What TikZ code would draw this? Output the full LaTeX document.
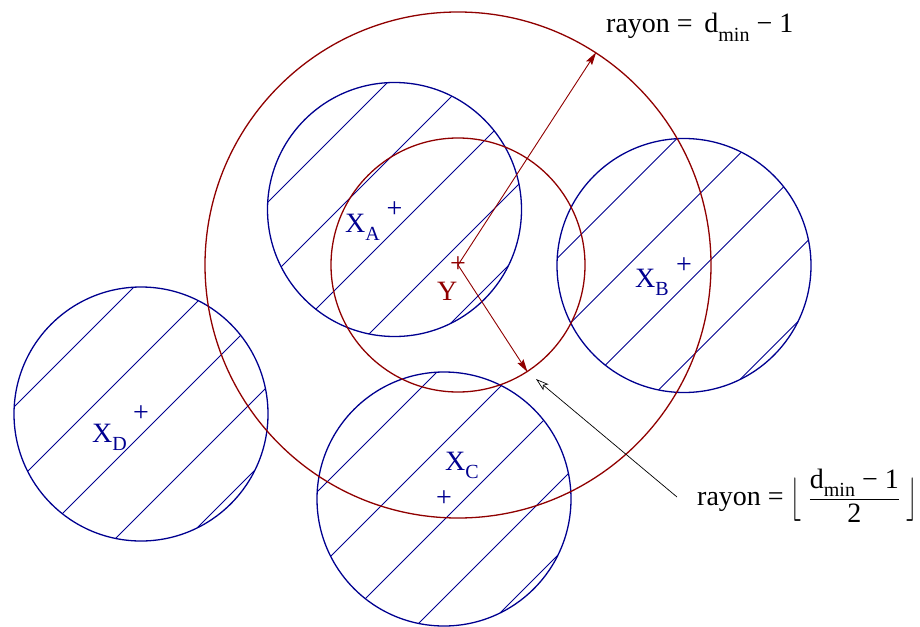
\documentclass[tikz,border=0pt]{standalone}
\usepackage{fontspec}
\setmainfont{Liberation Serif}
\usetikzlibrary{arrows.meta,calc}
\definecolor{cblue}{RGB}{0,0,144}
\definecolor{cred}{RGB}{144,0,0}
\newcommand\sbs[1]{\raisebox{-0.3em}{\fontsize{20}{22}\selectfont #1}}
\newcommand\tallfl[1]{\raisebox{-5pt}{\scalebox{1}[1.75]{$#1$}}}
\newcommand\hatchcirc[1]{%
  \foreach \k in {-134,-56,21,99,170}{%
    \pgfmathsetmacro\hl{sqrt(8064.5-(\k/2)*(\k/2))}%
    \draw[hatchline] ([shift={({\k/2-\hl},{\k/2+\hl})}]#1.center) -- ([shift={({\k/2+\hl},{\k/2-\hl})}]#1.center);
  }}
\begin{document}
\begin{tikzpicture}[x=1pt,y=-1pt,
  bluecirc/.style={draw=cblue, line width=1.3pt, circle, minimum size=254pt, inner sep=0pt},
  redcirc/.style={draw=cred, line width=1.3pt, circle, inner sep=0pt},
  hatchline/.style={cblue, line width=0.75pt},
  lbl/.style={font=\fontsize{28}{32}\selectfont, inner sep=0pt, anchor=base west},
  crossmark/.style={font=\fontsize{28}{32}\selectfont, inner sep=0pt},
  redarrow/.style={cred, line width=0.9pt, -{Stealth[length=13pt,width=7pt,inset=2pt]}},
  blackarrow/.style={black, line width=0.7pt, -{Stealth[open,length=13pt,width=8pt,inset=3pt]}}]
\useasboundingbox (0,0) rectangle (920,626);
\fill[white] (0,0) rectangle (920,626);
% blue circles
\node[bluecirc] (A) at (394.5,209.5) {};
\node[bluecirc] (B) at (684,265.5) {};
\node[bluecirc] (C) at (444,499) {};
\node[bluecirc] (D) at (141,414) {};
\hatchcirc{A}
\hatchcirc{B}
\hatchcirc{C}
\hatchcirc{D}
% red circles
\coordinate (Yc) at (458,265);
\node[redcirc, minimum size=506pt] (big) at (Yc) {};
\node[redcirc, minimum size=254pt] (small) at (Yc) {};
% centres
\node[crossmark, text=cblue] (pA) at (A.center) {+};
\node[crossmark, text=cblue] (pB) at (B.center) {+};
\node[crossmark, text=cblue] (pC) at (C.center) {+};
\node[crossmark, text=cblue] (pD) at (D.center) {+};
\node[crossmark, text=cred] (pY) at (Yc) {+};
% labels
\node[lbl, text=cblue] (lA) at (345,232) {X\sbs{A}};
\node[lbl, text=cblue] (lB) at (635,287) {X\sbs{B}};
\node[lbl, text=cblue] (lC) at (445,470) {X\sbs{C}};
\node[lbl, text=cblue] (lD) at (92,442) {X\sbs{D}};
\node[lbl, text=cred] (lY) at (437,300) {Y};
\node[lbl] (r1) at (606,33) {rayon = \,d\sbs{min} − 1};
\node[lbl] (r2) at (697,505) {rayon = \tallfl{\lfloor}$\displaystyle\;\frac{\mbox{d\sbs{min} − 1}}{\mbox{2}}\;$\tallfl{\rfloor}};
% arrows
\draw[redarrow] (Yc) -- (big.57.5);
\draw[redarrow] (Yc) -- (small.-57);
\coordinate (bs) at (677,497);
\coordinate (bt) at (536,379);
\draw[blackarrow] (bs) -- (bt);
\end{tikzpicture}
\end{document}
